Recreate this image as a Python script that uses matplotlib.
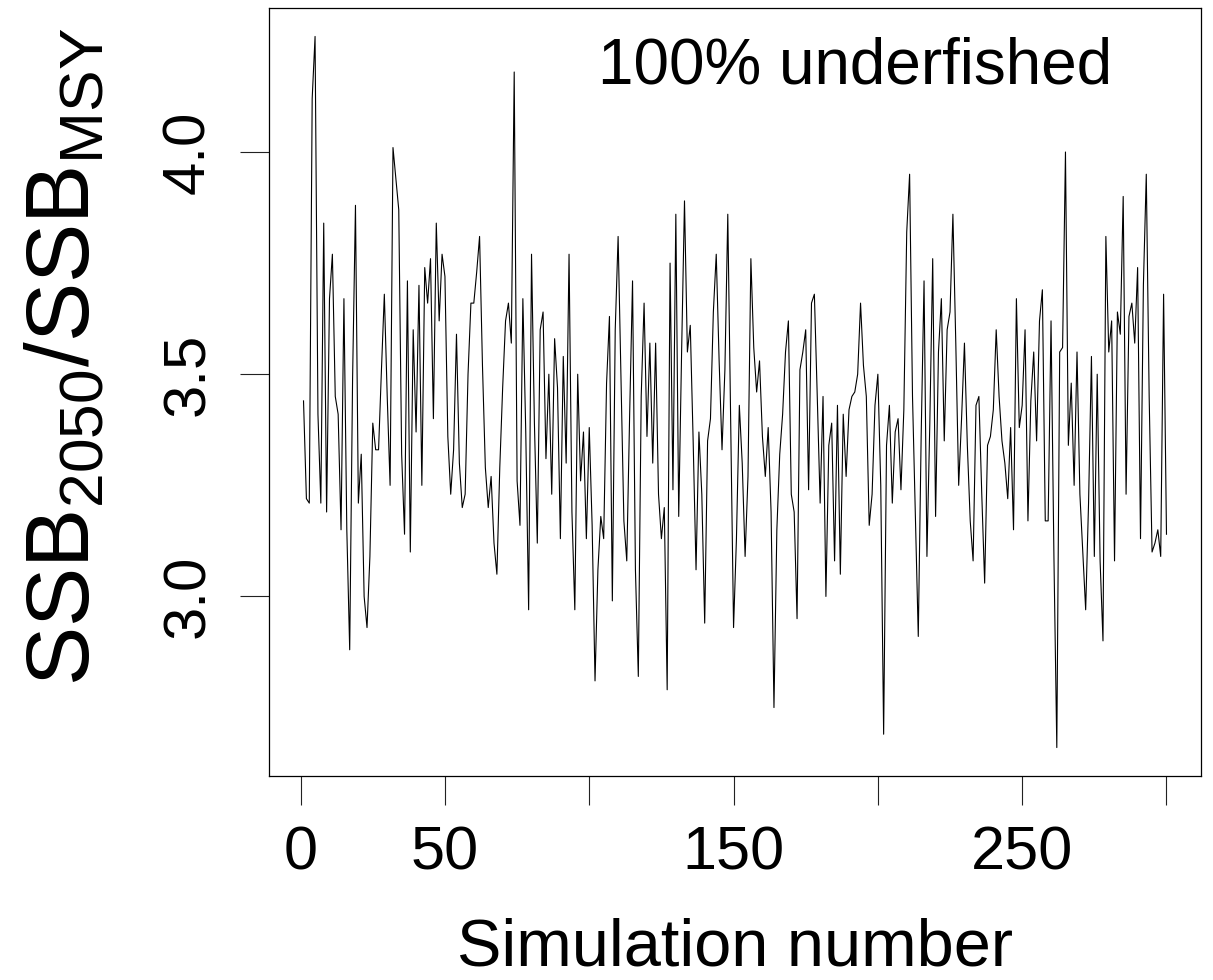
import matplotlib
matplotlib.use("Agg")
import matplotlib.pyplot as plt
import numpy as np

# SSB2050/SSBMSY for each simulation
ssb_ratio = [
    3.44, 3.22, 3.21, 4.12, 4.26, 3.41, 3.21, 3.84, 3.19, 3.67,
    3.77, 3.45, 3.41, 3.15, 3.67, 3.15, 2.88, 3.49, 3.88, 3.21,
    3.32, 3.00, 2.93, 3.09, 3.39, 3.33, 3.33, 3.51, 3.68, 3.45,
    3.25, 4.01, 3.94, 3.87, 3.32, 3.14, 3.71, 3.10, 3.60, 3.37,
    3.70, 3.25, 3.74, 3.66, 3.76, 3.40, 3.84, 3.62, 3.77, 3.72,
    3.36, 3.23, 3.33, 3.59, 3.30, 3.20, 3.23, 3.50, 3.66, 3.66,
    3.73, 3.81, 3.52, 3.29, 3.20, 3.27, 3.12, 3.05, 3.29, 3.47,
    3.62, 3.66, 3.57, 4.18, 3.26, 3.16, 3.67, 3.37, 2.97, 3.77,
    3.39, 3.12, 3.60, 3.64, 3.31, 3.50, 3.23, 3.58, 3.47, 3.13,
    3.54, 3.30, 3.77, 3.19, 2.97, 3.50, 3.26, 3.37, 3.13, 3.38,
    3.16, 2.81, 3.06, 3.18, 3.13, 3.48, 3.63, 2.99, 3.60, 3.81,
    3.49, 3.17, 3.08, 3.41, 3.71, 3.06, 2.82, 3.45, 3.66, 3.36,
    3.57, 3.30, 3.57, 3.23, 3.13, 3.20, 2.79, 3.75, 3.24, 3.86,
    3.18, 3.55, 3.89, 3.55, 3.61, 3.35, 3.06, 3.37, 3.23, 2.94,
    3.35, 3.40, 3.64, 3.77, 3.53, 3.33, 3.51, 3.86, 3.40, 2.93,
    3.13, 3.43, 3.30, 3.09, 3.27, 3.76, 3.56, 3.46, 3.53, 3.36,
    3.27, 3.38, 3.19, 2.75, 3.15, 3.32, 3.41, 3.55, 3.62, 3.23,
    3.19, 2.95, 3.51, 3.55, 3.60, 3.24, 3.66, 3.68, 3.45, 3.21,
    3.45, 3.00, 3.34, 3.39, 3.08, 3.43, 3.05, 3.41, 3.27, 3.42,
    3.45, 3.46, 3.50, 3.66, 3.52, 3.45, 3.16, 3.23, 3.43, 3.50,
    3.25, 2.69, 3.34, 3.43, 3.21, 3.37, 3.40, 3.24, 3.42, 3.82,
    3.95, 3.45, 3.18, 2.91, 3.36, 3.71, 3.09, 3.39, 3.76, 3.18,
    3.55, 3.67, 3.35, 3.60, 3.64, 3.86, 3.57, 3.25, 3.40, 3.57,
    3.34, 3.17, 3.08, 3.43, 3.45, 3.23, 3.03, 3.34, 3.36, 3.42,
    3.60, 3.45, 3.35, 3.30, 3.22, 3.38, 3.15, 3.67, 3.38, 3.43,
    3.60, 3.17, 3.44, 3.55, 3.35, 3.62, 3.69, 3.17, 3.17, 3.62,
    3.09, 2.66, 3.55, 3.56, 4.00, 3.34, 3.48, 3.25, 3.55, 3.23,
    3.10, 2.97, 3.21, 3.54, 3.09, 3.50, 3.08, 2.90, 3.81, 3.55,
    3.62, 3.08, 3.64, 3.59, 3.90, 3.23, 3.63, 3.66, 3.57, 3.74,
    3.13, 3.70, 3.95, 3.45, 3.10, 3.12, 3.15, 3.09, 3.68, 3.14,
]
sim_number = np.arange(1, len(ssb_ratio) + 1)

x_ticks = [0, 50, 100, 150, 200, 250, 300]
x_tick_labels = ["0", "50", "", "150", "", "250", ""]
y_ticks = [3.0, 3.5, 4.0]
y_tick_labels = ["3.0", "3.5", "4.0"]
panel_label = "100% underfished"
x_title = "Simulation number"
y_title = r"SSB$_{2050}$/SSB$_{\mathrm{MSY}}$"

plt.rcParams['font.family'] = ['Liberation Sans', 'DejaVu Sans']
plt.rcParams['mathtext.fontset'] = 'custom'
plt.rcParams['mathtext.rm'] = 'Liberation Sans'
plt.rcParams['mathtext.it'] = 'Liberation Sans'
plt.rcParams['mathtext.bf'] = 'Liberation Sans'

W, H = 1213, 980
fig = plt.figure(figsize=(W / 100, H / 100), dpi=100)
ax = fig.add_axes([269 / W, 1 - 776 / H, (1201 - 269) / W, (776 - 8) / H])

ax.plot(sim_number, ssb_ratio, color='black', lw=0.8)

# R-style 4% axis extension
xr = sim_number.max() - sim_number.min()
ax.set_xlim(sim_number.min() - 0.04 * xr, sim_number.max() + 0.04 * xr)
yv = np.array(ssb_ratio)
yr = yv.max() - yv.min()
ax.set_ylim(yv.min() - 0.04 * yr, yv.max() + 0.04 * yr)

ax.set_xticks(x_ticks)
ax.set_xticklabels(x_tick_labels, fontsize=44)
ax.set_yticks(y_ticks)
ax.set_yticklabels(y_tick_labels, fontsize=43, rotation=90, va='center')
ax.tick_params(axis='both', direction='out', length=21, width=0.8, color='#222222')
ax.tick_params(axis='x', pad=15)
ax.tick_params(axis='y', pad=17)
for s in ax.spines.values():
    s.set_linewidth(0.9)
    s.set_color('black')

fig.text(855 / W, 1 - 66 / H, panel_label, fontsize=46, ha='center', va='center')
fig.text(735 / W, 1 - 965 / H, x_title, fontsize=48, ha='center', va='baseline')
fig.text(66 / W, 1 - 357 / H, y_title, fontsize=64, ha='center', va='center',
         rotation=90)

fig.savefig("out.png", dpi=100)
